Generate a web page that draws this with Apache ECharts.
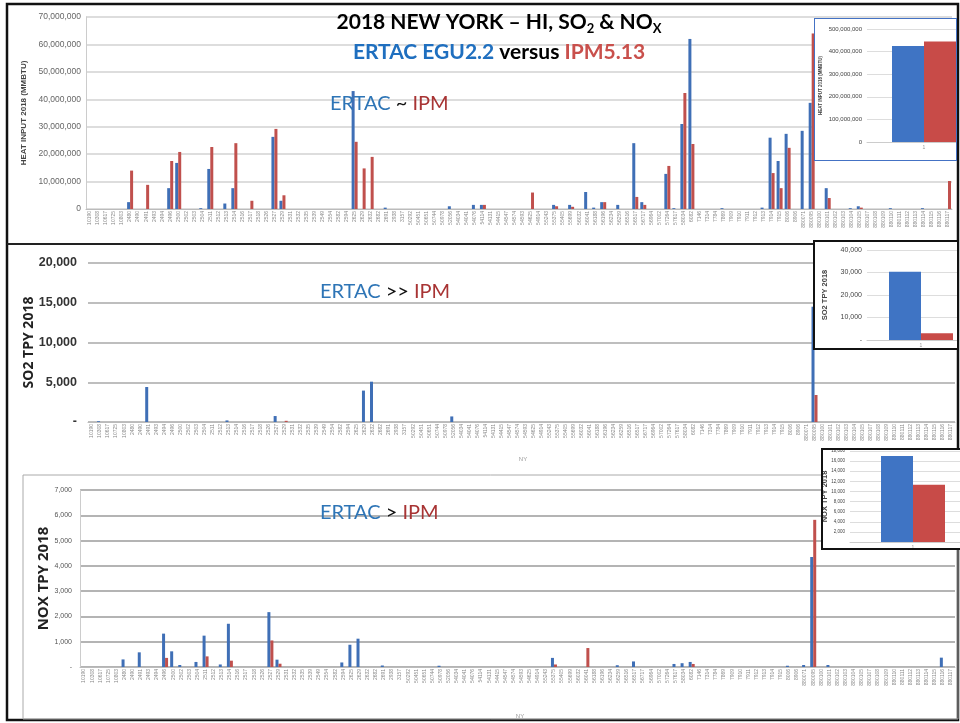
<!DOCTYPE html>
<html>
<head>
<meta charset="utf-8">
<script src="https://cdn.jsdelivr.net/npm/echarts@6/dist/echarts.min.js"></script>
<style>
  body { margin: 0; background: #fff; }
  #main { position: absolute; left: 0; top: 0; width: 960px; height: 723px; }
  .inset { position: absolute; background: #fff; box-sizing: border-box; overflow: hidden; }
  .inset div { width: 100%; height: 100%; }
</style>
</head>
<body>
<div id="main"></div>
<div class="inset" style="left:814px;top:18px;width:143px;height:143px;border:1.5px solid #4472C4;"><div id="ins1"></div></div>
<div class="inset" style="left:813px;top:240px;width:146px;height:110px;border:2.5px solid #111;"><div id="ins2"></div></div>
<div class="inset" style="left:821px;top:448px;width:142px;height:102px;border:2.5px solid #111;"><div id="ins3"></div></div>
<script>
// facility (ORIS) ids along the x axis
var plants = [
  '10190','10308','10617','10725','10803','2480','2490','2491','2493','2494','2496','2500',
  '2502','2503','2504','2511','2512','2513','2514','2516','2517','2518','2526','2527',
  '2529','2531','2532','2535','2539','2549','2554','2582','2594','2625','2629','2632',
  '2682','2691','2938','3157','50292','50451','50651','50744','50978','52056','54034','54041',
  '54076','54114','54131','54415','54547','54574','54593','54625','54914','55243','55375','55405',
  '55699','56032','56041','56188','56196','56234','56259','56516','56517','56717','56964','57002',
  '57264','57617','58034','6082','7146','7314','7784','7869','7909','7910','7911','7912',
  '7913','7914','7915','8006','8906','880071','880095','880100','880101','880102','880103','880104',
  '880105','880107','880108','880109','880110','880111','880112','880113','880114','880115','880116','880117'
];

// heat input, million MMBtu
var hiErtac = [
  0,0,0,0,0,2.5,0,0,0,0,7.6,16.8,
  0,0,0.3,14.6,0,2.0,7.6,0,0,0,0,26.3,
  3.0,0,0,0,0,0,0,0,0,43.0,0,0,
  0,0.5,0,0,0,0,0,0,0,1.0,0,0,
  1.5,1.5,0,0,0,0,0,0,0,0,1.5,0,
  1.5,0,6.2,0.5,2.5,0,1.5,0,24.0,2.5,0,0,
  12.8,0.3,31.0,62.0,0,0,0,0.3,0,0,0,0,
  0.5,26.0,17.5,27.4,0,28.5,38.7,0,7.6,0,0,0.3,
  1.0,0,0,0,0.3,0,0,0,0.3,0,0,0
];
var hiIpm = [
  0,0,0,0,0,14.0,0,8.8,0,0,17.5,20.8,
  0,0,0,22.6,0,0,24.0,0,3.0,0,0,29.2,
  5.0,0,0,0,0,0,0,0,0,24.5,14.8,19.0,
  0,0,0,0,0,0,0,0,0,0,0,0,
  0,1.5,0,0,0,0,0,6.0,0,0,1.0,0,
  0.8,0,0,0,2.5,0,0,0,4.4,1.5,0,0,
  15.7,0,42.3,23.7,0,0,0,0,0,0,0,0,
  0,13.1,7.6,22.3,0,0,64.0,0,4.0,0,0,0,
  0.5,0,0,0,0,0,0,0,0,0,0,10.2
];

// SO2 tons per year
var so2Ertac = [
  0,100,0,0,0,0,0,4400,0,0,0,0,
  0,0,0,0,0,200,0,0,0,0,0,750,
  0,0,0,0,0,0,0,0,0,0,3950,5070,
  0,0,0,0,0,0,0,0,0,700,0,0,
  0,0,0,0,0,0,0,0,0,0,0,0,
  0,0,0,0,0,0,0,0,0,0,0,0,
  0,0,0,0,0,0,0,0,0,0,0,0,
  0,0,0,0,0,0,14500,0,0,0,0,0,
  0,0,0,0,0,0,0,0,0,0,0,0
];
var so2Ipm = [
  0,0,0,0,0,0,0,0,0,0,0,0,
  0,0,0,0,0,0,0,0,0,0,0,0,
  150,0,0,0,0,0,0,0,0,0,0,0,
  0,0,0,0,0,0,0,0,0,0,0,0,
  0,0,0,0,0,0,0,0,0,0,0,0,
  0,0,0,0,0,0,0,0,0,0,0,0,
  0,0,0,0,0,0,0,0,0,0,0,0,
  0,0,0,0,0,0,3400,0,0,0,0,0,
  0,0,0,0,0,0,0,0,0,0,0,0
];

// NOx tons per year
var noxErtac = [
  0,0,0,0,0,300,0,580,0,0,1320,620,
  80,0,200,1240,0,100,1710,0,0,0,0,2170,
  290,0,0,0,0,0,0,0,180,880,1120,0,
  0,60,0,0,0,0,0,0,50,0,0,0,
  0,0,0,0,0,0,0,0,0,0,360,0,
  0,0,0,0,0,0,70,0,220,0,0,0,
  0,120,150,200,0,0,0,0,0,0,0,0,
  0,0,0,50,0,80,4350,0,80,0,0,0,
  0,0,0,0,0,0,0,0,0,0,370,0
];
var noxIpm = [
  0,0,0,0,0,0,0,0,0,0,360,0,
  0,0,0,420,0,0,250,0,0,0,0,1050,
  130,0,0,0,0,0,0,0,0,0,0,0,
  0,0,0,0,0,0,0,0,0,0,0,0,
  0,0,0,0,0,0,0,0,0,0,100,0,
  0,0,750,0,0,0,0,0,0,0,0,0,
  0,0,0,120,0,0,0,0,0,0,0,0,
  0,0,0,0,0,0,5820,0,0,0,0,0,
  0,0,0,0,0,0,0,0,0,0,0,0
];

// state totals for the insets [ERTAC, IPM]
var hiTotals = [425, 445];        // million MMBtu
var so2Totals = [30300, 3000];
var noxTotals = [17000, 11300];

var BLUE = '#3F6FB6', RED = '#C0504D';
var fmt = function (v) { return v.toLocaleString('en-US'); };

function xAx(idx, tickLen, fs) {
  return {
    type: 'category', gridIndex: idx, data: plants,
    axisLine: { lineStyle: { color: '#bbb' } },
    axisTick: { length: tickLen, lineStyle: { color: '#d8d8d8' } },
    axisLabel: { interval: 0, rotate: 90, fontSize: fs, color: '#8a8a8a', margin: 2 }
  };
}

function note(x, y, sym) {
  return {
    type: 'text', x: x, y: y, z: 10,
    style: {
      text: '{b|ERTAC}{k| ' + sym + ' }{r|IPM}', verticalAlign: 'middle',
      rich: {
        b: { fontSize: 20, fontFamily: 'Lato', fill: '#2E75B6' },
        k: { fontSize: 20, fontFamily: 'Lato', fill: '#111' },
        r: { fontSize: 20, fontFamily: 'Lato', fill: '#A83434' }
      }
    }
  };
}

var main = echarts.init(document.getElementById('main'));
main.setOption({
  animation: false,
  grid: [
    { left: 86, right: 8, top: 17, bottom: 514, outerBoundsMode: 'none' },
    { left: 88, right: 5, top: 263, bottom: 301, outerBoundsMode: 'none' },
    { left: 80, right: 5, top: 490, bottom: 56, outerBoundsMode: 'none' }
  ],
  xAxis: [xAx(0, 26, 5), xAx(1, 22, 5), xAx(2, 36, 5)],
  yAxis: [
    {
      type: 'value', gridIndex: 0, min: 0, max: 70, interval: 10,
      name: 'HEAT INPUT 2018 (MMBTU)', nameLocation: 'middle', nameGap: 58, nameRotate: 90, nameMoveOverlap: false,
      nameTextStyle: { fontSize: 8, fontWeight: 'bold', color: '#444' },
      axisLine: { show: true, lineStyle: { color: '#ccc' } },
      axisLabel: { fontSize: 8.5, color: '#666', margin: 5, formatter: function (v) { return fmt(v * 1e6); } },
      splitLine: { lineStyle: { color: '#d2d2d2', width: 1.5 } }
    },
    {
      type: 'value', gridIndex: 1, min: 0, max: 20000, interval: 5000,
      name: 'SO2 TPY 2018', nameLocation: 'middle', nameGap: 52, nameRotate: 90, nameMoveOverlap: false,
      nameTextStyle: { fontSize: 14, fontWeight: 'bold', color: '#222', fontFamily: 'Open Sans' },
      axisLine: { show: false },
      axisLabel: { fontSize: 12.5, fontWeight: 'bold', color: '#333', margin: 11,
        formatter: function (v) { return v === 0 ? '-' : fmt(v); } },
      splitLine: { lineStyle: { color: '#a8a8a8', width: 1.5 } }
    },
    {
      type: 'value', gridIndex: 2, min: 0, max: 7000, interval: 1000,
      name: 'NOX TPY 2018', nameLocation: 'middle', nameGap: 29, nameRotate: 90, nameMoveOverlap: false,
      nameTextStyle: { fontSize: 15, fontWeight: 'bold', color: '#222', fontFamily: 'Open Sans' },
      axisLine: { show: true, lineStyle: { color: '#ccc' } },
      axisLabel: { fontSize: 7, color: '#555', margin: 8,
        formatter: function (v) { return v === 0 ? '-' : fmt(v); } },
      splitLine: { lineStyle: { color: '#b4b4b4', width: 2 } }
    }
  ],
  series: [
    { type: 'bar', xAxisIndex: 0, yAxisIndex: 0, data: hiErtac, barWidth: 3, barGap: '0%', itemStyle: { color: BLUE } },
    { type: 'bar', xAxisIndex: 0, yAxisIndex: 0, data: hiIpm, barWidth: 3, barGap: '0%', itemStyle: { color: RED } },
    { type: 'bar', xAxisIndex: 1, yAxisIndex: 1, data: so2Ertac, barWidth: 3, barGap: '0%', itemStyle: { color: BLUE } },
    { type: 'bar', xAxisIndex: 1, yAxisIndex: 1, data: so2Ipm, barWidth: 3, barGap: '0%', itemStyle: { color: RED } },
    { type: 'bar', xAxisIndex: 2, yAxisIndex: 2, data: noxErtac, barWidth: 3, barGap: '0%', itemStyle: { color: BLUE } },
    { type: 'bar', xAxisIndex: 2, yAxisIndex: 2, data: noxIpm, barWidth: 3, barGap: '0%', itemStyle: { color: RED } }
  ],
  graphic: [
    { type: 'rect', shape: { x: 7, y: 4, width: 951, height: 716 }, style: { fill: 'none', stroke: '#111', lineWidth: 2.5 } },
    { type: 'line', shape: { x1: 7, y1: 244, x2: 958, y2: 244 }, style: { stroke: '#222', lineWidth: 2 } },
    { type: 'rect', shape: { x: 23, y: 475, width: 935, height: 244 }, style: { fill: 'none', stroke: '#aaa', lineWidth: 1 } },
    {
      type: 'text', x: 499, y: 22, z: 10,
      style: {
        text: '{t|2018 NEW YORK – HI, SO}{s|2}{t| & NO}{s|X}',
        align: 'center', verticalAlign: 'middle',
        rich: {
          t: { fontSize: 21, fontWeight: 'bold', fontFamily: 'Lato', fill: '#000', lineHeight: 26 },
          s: { fontSize: 13, fontWeight: 'bold', fontFamily: 'Lato', fill: '#000', lineHeight: 13, verticalAlign: 'bottom' }
        }
      }
    },
    {
      type: 'text', x: 499, y: 52, z: 10,
      style: {
        text: '{b|ERTAC EGU2.2}{k| versus }{r|IPM5.13}',
        align: 'center', verticalAlign: 'middle',
        rich: {
          b: { fontSize: 21, fontWeight: 'bold', fontFamily: 'Lato', fill: '#1F6FBF' },
          k: { fontSize: 21, fontWeight: 'bold', fontFamily: 'Lato', fill: '#000' },
          r: { fontSize: 21, fontWeight: 'bold', fontFamily: 'Lato', fill: '#C9504C' }
        }
      }
    },
    note(330, 104, '~'),
    note(320, 292, '>>'),
    note(320, 513, '>'),
    { type: 'text', x: 523, y: 459, style: { text: 'NY', fontSize: 6, fill: '#999', align: 'center', verticalAlign: 'middle' } },
    { type: 'text', x: 520, y: 716, style: { text: 'NY', fontSize: 6, fill: '#999', align: 'center', verticalAlign: 'middle' } }
  ]
});

// small total charts in the corners
function inset(id, grid, yMax, yStep, labelSize, name, nameGap, nameSize, labelFmt, values) {
  var c = echarts.init(document.getElementById(id));
  grid.outerBoundsMode = 'none';
  c.setOption({
    animation: false,
    grid: grid,
    xAxis: {
      type: 'category', data: ['1'],
      axisLine: { lineStyle: { color: '#ccc' } },
      axisTick: { show: false },
      axisLabel: { fontSize: 5, color: '#999', margin: 3 }
    },
    yAxis: {
      type: 'value', min: 0, max: yMax, interval: yStep,
      name: name, nameLocation: 'middle', nameRotate: 90, nameGap: nameGap, nameMoveOverlap: false,
      nameTextStyle: { fontSize: nameSize, fontWeight: 'bold', color: '#444' },
      axisLabel: { fontSize: labelSize, color: '#444', margin: 5, formatter: labelFmt },
      splitLine: { lineStyle: { color: '#ddd' } }
    },
    series: [
      { type: 'bar', data: [values[0]], barWidth: 32, barGap: '0%', itemStyle: { color: '#3F74C4' } },
      { type: 'bar', data: [values[1]], barWidth: 32, barGap: '0%', itemStyle: { color: '#C84B48' } }
    ]
  });
}

inset('ins1', { left: 52, right: -25, top: 10, bottom: 18 }, 500, 100, 6,
  'HEAT INPUT 2018 (MMBTU)', 44, 4.5, function (v) { return fmt(v * 1e6); }, hiTotals);
inset('ins2', { left: 52, right: -18, top: 8, bottom: 8 }, 40000, 10000, 7,
  'SO2 TPY 2018', 38, 7.5, function (v) { return v === 0 ? '-' : fmt(v); }, so2Totals);
inset('ins3', { left: 27, right: -15, top: 1, bottom: 6 }, 18000, 2000, 4.5,
  'NOX TPY 2018', 21, 7.5, function (v) { return v === 0 ? '' : fmt(v); }, noxTotals);
</script>
</body>
</html>
